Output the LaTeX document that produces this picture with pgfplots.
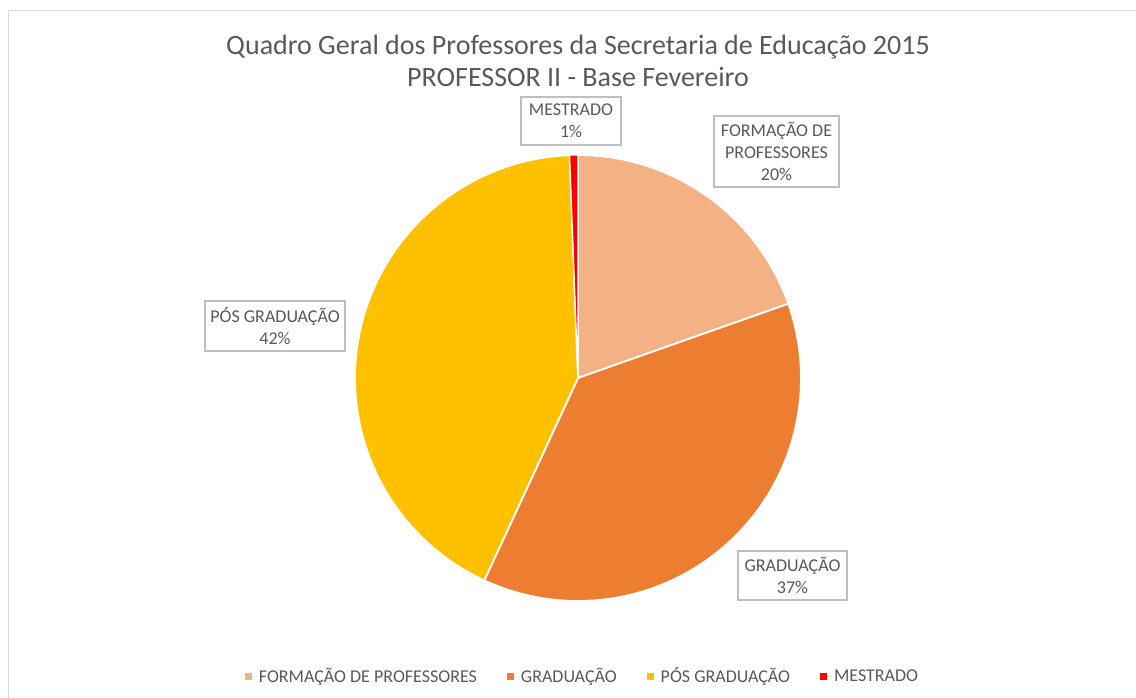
\documentclass[border=0pt]{standalone}
\usepackage{pgfplots}
\usepackage{pgfplotstable}
\pgfplotsset{compat=1.18}
\usepackage{fontspec}
\setmainfont{Carlito}
\definecolor{cF}{HTML}{F4B183}
\definecolor{cG}{HTML}{ED7D31}
\definecolor{cP}{HTML}{FFC000}
\definecolor{cM}{HTML}{FF0000}
\definecolor{txt}{HTML}{595959}
\definecolor{boxg}{HTML}{BFBFBF}
\definecolor{frameg}{HTML}{D9D9D9}
\tikzset{lab/.style={draw=boxg, line width=1.2pt, fill=white, align=center, text=txt,
      inner sep=0pt, font=\fontsize{18}{22}\selectfont}}
\pgfplotstableread{
label value
F 19.6
G 37.3
P 42.5
M 0.6
}\piedata
\pgfplotstablegetelem{0}{value}\of\piedata \let\vF\pgfplotsretval
\pgfplotstablegetelem{1}{value}\of\piedata \let\vG\pgfplotsretval
\pgfplotstablegetelem{2}{value}\of\piedata \let\vP\pgfplotsretval
\pgfplotstablegetelem{3}{value}\of\piedata \let\vM\pgfplotsretval
\pgfmathsetmacro\aA{90}
\pgfmathsetmacro\aB{\aA-3.6*\vF}
\pgfmathsetmacro\aC{\aB-3.6*\vG}
\pgfmathsetmacro\aD{\aC-3.6*\vP}
\pgfmathsetmacro\aE{\aD-3.6*\vM}
\begin{document}
\begin{tikzpicture}
\begin{axis}[
  x=223pt, y=223pt, scale only axis, hide axis, clip=false,
  xmin=-2.5919, xmax=2.5022, ymin=-1.4305, ymax=1.6951,
  legend columns=4,
  legend style={draw=none, fill=none, at={(0.5128,0.0301)}, anchor=center,
    font=\fontsize{18}{20}\selectfont, text=txt,
    /tikz/every even column/.append style={column sep=28pt}},
  legend image code/.code={\path (0pt,0pt) -- (12pt,0pt);\fill[#1] (0pt,-3.5pt) rectangle (7pt,3.5pt);},
]
\addplot[fill=cF, draw=white, line width=1.8pt, domain=\aB:\aA, samples=80, variable=\t, forget plot] ({cos(\t)},{sin(\t)}) -- (axis cs:0,0) -- cycle;
\addplot[fill=cG, draw=white, line width=1.8pt, domain=\aC:\aB, samples=120, variable=\t, forget plot] ({cos(\t)},{sin(\t)}) -- (axis cs:0,0) -- cycle;
\addplot[fill=cP, draw=white, line width=1.8pt, domain=\aD:\aC, samples=120, variable=\t, forget plot] ({cos(\t)},{sin(\t)}) -- (axis cs:0,0) -- cycle;
\addplot[fill=cM, draw=white, line width=1.2pt, domain=\aE:\aD, samples=5, variable=\t, forget plot] ({cos(\t)},{sin(\t)}) -- (axis cs:0,0) -- cycle;
\addlegendimage{fill=cF, draw=none}
\addlegendentry{FORMAÇÃO DE PROFESSORES}
\addlegendimage{fill=cG, draw=none}
\addlegendentry{GRADUAÇÃO}
\addlegendimage{fill=cP, draw=none}
\addlegendentry{PÓS GRADUAÇÃO}
\addlegendimage{fill=cM, draw=none}
\addlegendentry{MESTRADO}
\begin{scope}[shift={(axis cs:-2.5919,1.6951)}, x=1pt, y=-1pt]
  \coordinate (BL) at (0,697);
  \coordinate (TR) at (1136,0);
  \draw[frameg, line width=1.6pt] (8.5,720) -- (8.5,10.5) -- (1160,10.5);
  \node[align=center, text=txt, font=\fontsize{28}{32}\selectfont] at (578,61)
    {Quadro Geral dos Professores da Secretaria de Educação 2015\\PROFESSOR II - Base Fevereiro};
  \node[lab, minimum width=100pt, minimum height=48pt] at (571,121) {MESTRADO\\1\%};
  \node[lab, minimum width=125pt, minimum height=71pt] at (776.5,151.5) {FORMAÇÃO DE\\PROFESSORES\\20\%};
  \node[lab, minimum width=140pt, minimum height=50pt] at (275,326) {PÓS GRADUAÇÃO\\42\%};
  \node[lab, minimum width=109pt, minimum height=49pt] at (792.5,575.5) {GRADUAÇÃO\\37\%};
\end{scope}
\end{axis}
\pgfresetboundingbox
\useasboundingbox (BL) rectangle (TR);
\end{tikzpicture}
\end{document}
